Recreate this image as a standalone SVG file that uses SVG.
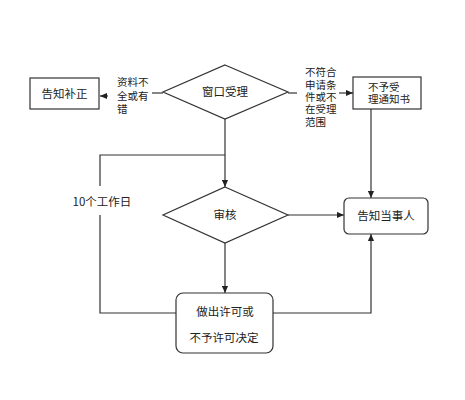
<svg xmlns="http://www.w3.org/2000/svg" width="465" height="400" viewBox="0 0 465 400">
<defs>
<marker id="ah" viewBox="0 0 8 8" refX="8" refY="4" markerWidth="7" markerHeight="7" markerUnits="userSpaceOnUse" orient="auto">
<path d="M0,0.5 L8,4 L0,7.5 Z" fill="#222"/>
</marker>
<style>
.s{fill:#fff;stroke:#333;stroke-width:1.2}
.l{fill:none;stroke:#333;stroke-width:1.2}
.t{font-family:"Noto Sans CJK SC","Liberation Sans",sans-serif;font-size:11.5px;fill:#222;text-anchor:middle}
.sm{font-family:"Liberation Sans","Noto Sans CJK SC",sans-serif;font-size:10.5px;fill:#222}
</style>
</defs>
<rect width="465" height="400" fill="#fff"/>
<g id="connectors">
<path class="l" d="M163,93 H152"/>
<path class="l" d="M108,96 H100" marker-end="url(#ah)"/>
<path class="l" d="M288,93 H297"/>
<path class="l" d="M339,93 H353" marker-end="url(#ah)"/>
<path class="l" d="M225,119 V187" marker-end="url(#ah)"/>
<path class="l" d="M225,155 H100 V186"/>
<path class="l" d="M100,215 V313 H176"/>
<path class="l" d="M225,243 V293" marker-end="url(#ah)"/>
<path class="l" d="M288,215 H344" marker-end="url(#ah)"/>
<path class="l" d="M371,109 V198" marker-end="url(#ah)"/>
<path class="l" d="M273,313 H371 V234" marker-end="url(#ah)"/>
<text class="sm" x="117" y="86">资料不</text>
<text class="sm" x="117" y="100">全或有</text>
<text class="sm" x="117" y="113">错</text>
<text class="sm" x="305" y="76">不符合</text>
<text class="sm" x="305" y="89">申请条</text>
<text class="sm" x="305" y="101">件或不</text>
<text class="sm" x="305" y="113">在受理</text>
<text class="sm" x="305" y="126">范围</text>
<text class="t" x="102" y="206">10个工作日</text>
</g>
<g id="n1">
<rect class="s" x="30" y="78" width="69" height="31"/>
<text class="t" x="64.5" y="98">告知补正</text>
</g>
<g id="n2">
<polygon class="s" points="225,65 288,92 225,119 163,92"/>
<text class="t" x="225" y="96">窗口受理</text>
</g>
<g id="n3">
<rect class="s" x="353" y="77" width="68" height="32"/>
<text class="sm" x="368" y="91">不予受</text>
<text class="sm" x="368" y="103">理通知书</text>
</g>
<g id="n4">
<polygon class="s" points="225,187 288,215 225,243 163,215"/>
<text class="t" x="225" y="219">审核</text>
</g>
<g id="n5">
<rect class="s" x="344" y="198" width="84" height="36" rx="5"/>
<text class="t" x="386" y="220">告知当事人</text>
</g>
<g id="n6">
<rect class="s" x="176" y="293" width="97" height="60" rx="7"/>
<text class="t" x="225" y="316">做出许可或</text>
<text class="t" x="224" y="342">不予许可决定</text>
</g>
</svg>
